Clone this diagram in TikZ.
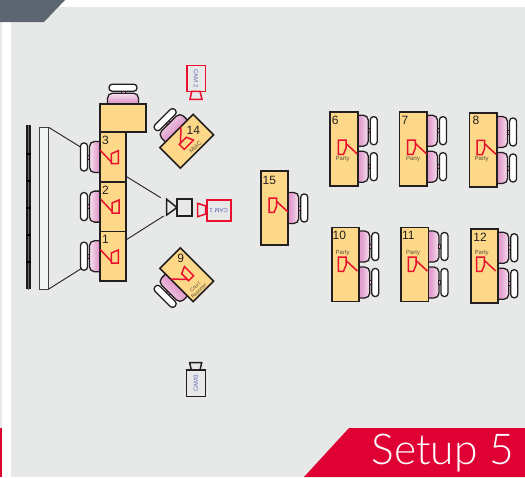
\documentclass[tikz,border=0pt]{standalone}
\usepackage{fontspec}
\setmainfont{Liberation Sans}
\newfontfamily\bannerfont{Lato Light}
\usetikzlibrary{positioning, backgrounds, calc}
\definecolor{panel}{HTML}{E7E9E8}
\definecolor{slate}{HTML}{5D6670}
\definecolor{banner}{HTML}{DF0034}
\definecolor{desk}{HTML}{FCD888}
\definecolor{ink}{HTML}{231F20}
\definecolor{micred}{HTML}{E8102E}
\definecolor{seatpink}{HTML}{E29FCE}
\definecolor{seatpale}{HTML}{F6E2EF}
\definecolor{camtext}{HTML}{5F69B8}
\definecolor{small}{HTML}{5E5138}

\tikzset{
  chair/.pic={
    \draw[ink, line width=1.3pt, rounded corners=5pt, left color=seatpale, right color=seatpink, middle color=seatpink, shading angle=90+#1]
      (6,-15.5) -- (-10.5,-15.5) -- (-10.5,15.5) -- (6,15.5) -- cycle;
    \draw[ink, line width=1pt, fill=seatpink] (-12.5,-2) rectangle (-10.5,2);
    \draw[ink, line width=1.3pt, fill=white, rounded corners=3.2pt] (-19.5,-14) rectangle (-12.5,14);
  },
  leftmic/.pic={
    \draw[micred, line width=1.5pt] (0,0) -- (11.3,12);
    \draw[micred, line width=1.5pt] (11.3,3.7) -- (18.3,.7) -- (18.3,13.7) -- (11.3,13.7) -- cycle;
  },
  rightmic/.pic={
    \draw[micred, line width=1.5pt] (0,0) -- (-11.3,-10.5);
    \draw[micred, line width=1.5pt] (-19,-14) -- (-11.3,-14) -- (-11.3,-6) -- (-13.8,.3) -- (-19,.3) -- cycle;
  }
}

\begin{document}
\begin{tikzpicture}[
  x=1pt, y=-1pt,
  tbox/.style={draw=ink, fill=desk, line width=1.6pt, outer sep=0pt, inner sep=0pt, minimum width=26pt, minimum height=49.6pt},
  longbox/.style={tbox, minimum width=27.5pt, minimum height=74pt},
  tiltbox/.style={tbox, minimum width=47pt, minimum height=29pt},
  num/.style={font=\fontsize{12}{12}\selectfont, text=ink, inner sep=0pt},
  tiny/.style={font=\fontsize{6}{6}\selectfont, text=small, inner sep=0pt, align=center},
  camred/.style={draw=micred, line width=1.6pt, fill=panel, inner sep=0pt, outer sep=0pt,
                 font=\fontsize{6}{6}\selectfont, text=camtext},
  camdark/.style={camred, draw=ink},
  lens/.style={draw=micred, line width=1.5pt},
  thin/.style={draw=ink, line width=.9pt}
]
\useasboundingbox (0,0) rectangle (525,477);

\node[tbox]                  (t3) at (113,157) {};
\node[tbox, below=0pt of t3] (t2) {};
\node[tbox, below=0pt of t2] (t1) {};
\node[tbox, minimum width=46pt, minimum height=28.5pt, anchor=south west] (ttop) at (t3.north west) {};

\foreach \n/\cx/\cy in {6/344/148.7, 7/413.2/148.7, 8/483.3/150, 10/345.5/264.5, 11/414.7/264.5, 12/484.5/265.8, 15/274.5/208}
  \node[longbox] (t\n) at (\cx,\cy) {};

\node[tiltbox, rotate=45]  (t14) at (186.7,141.2) {};
\node[tiltbox, rotate=-45] (t9)  at (186.7,274.8) {};

\begin{scope}[on background layer]
  \fill[white] (0,0) rectangle (525,477);
  \fill[panel] (11,7) rectangle (525,477);
  \fill[panel] (0,0) rectangle (2,428);
  \fill[banner] (0,428) rectangle (2,477);
  \fill[slate] (0,0) -- (65,0) -- (44,22) -- (0,22) -- cycle;
  \fill[banner] (349,428) -- (525,428) -- (525,477) -- (304,477) -- cycle;

  \foreach \n in {1,2,3}
    \pic at (t\n.west) {chair=0};
  \pic[rotate=-90] at (ttop.north) {chair=-90};
  \foreach \n in {6,7,8,10,11,12} {
    \pic[rotate=180] at ([yshift=-19pt]t\n.north east) {chair=180};
    \pic[rotate=180] at ([yshift=19pt]t\n.south east) {chair=180};
  }
  \pic[rotate=180] at (t15.east) {chair=180};
  \pic[rotate=-45] at (t14.north) {chair=-45};
  \pic[rotate=45]  at (t9.south) {chair=45};
\end{scope}

\foreach \n/\cx/\cy in {3/105.5/140, 2/105.5/190, 1/105.5/239, 6/335.3/120, 7/405/120, 8/476/120.7, 15/269.3/180,
                        10/339.3/235, 11/408.3/235.7, 12/480/237.3, 14/193.3/130, 9/180.7/258.3}
  \node[num] (lbl\n) at (\cx,\cy) {\n};

\foreach \cx/\cy in {100/249.3, 100.7/199.3, 100/150}
  \pic at (\cx,\cy) {leftmic};
\pic[rotate=-45] at (181,126.7) {leftmic};
\pic[rotate=45]  at (171,279)   {leftmic};
\foreach \cx/\cy in {357.3/154, 426.7/154, 496/154.3, 357.3/271, 427.3/271, 495.7/271, 288/212}
  \pic at (\cx,\cy) {rightmic};

\foreach \n/\cx/\cy in {a/342.7/159, b/413/159, c/481.7/159, d/342.7/253, e/413/253, f/481.7/253}
  \node[tiny] (party\n) at (\cx,\cy) {Party};
\node[tiny, rotate=45] (miac) at (195.5,147) {MIAC};
\node[tiny, rotate=45, font=\fontsize{5}{5.5}\selectfont] (reporter) at (197.3,289.3) {Court\\Reporter};

\node[fill=black!90, inner sep=0pt, minimum width=4.6pt, minimum height=164pt] (wall) at (28.7,207.3) {};
\draw[black!60, line width=.5pt] (wall.north) -- (wall.south);
\foreach \ty in {153.7,180.7,207.7,235,262.3}
  \draw[black, line width=1.8pt] (wall.west |- 0,\ty) -- (wall.east |- 0,\ty);
\node[draw=ink!85, fill=white!55!panel, line width=1pt, inner sep=0pt, outer sep=0pt, minimum width=9.4pt, minimum height=161.7pt] (screen) at (44,208.2) {};

\coordinate (seatA) at (80,146.7);
\coordinate (seatB) at (81.7,268.3);
\coordinate (tableA) at (126.7,176.7);
\coordinate (tableB) at (127,239.3);
\coordinate (projA) at (160.7,197.7);
\coordinate (projB) at (163.7,216);
\draw[thin] (screen.north east) -- (seatA);
\draw[thin] (screen.south east) -- (seatB);
\draw[thin] (tableA) -- (projA);
\draw[thin] (tableB) -- (projB);

\node[draw=ink, line width=1.6pt, minimum width=15pt, minimum height=17pt, inner sep=0pt, outer sep=0pt] (proj) at (184.5,207.5) {};
\draw[ink, line width=1.5pt] (166.7,199.3) -- (proj.west) -- (166.7,215) -- cycle;

\node[camred, minimum width=24pt, minimum height=21pt, rotate=180] (cam1) at (218.7,210.5) {CAM 1};
\draw[lens] (205.7,206) -- (197.7,203.3) -- (197.7,216.7) -- (205.7,214) -- cycle;

\node[camred, minimum width=26pt, minimum height=18.6pt, rotate=-90] (cam2) at (196,78.3) {CAM 2};
\draw[lens] (191.7,91.3) -- (190,99.3) -- (202,99.3) -- (200,91.3) -- cycle;

\node[camdark, minimum width=26.7pt, minimum height=19pt, rotate=90] (cam3) at (195.8,383.3) {CAM3};
\draw[ink, line width=1.5pt] (191.3,370) -- (189.7,362.7) -- (201.7,362.7) -- (200,370) -- cycle;

\node[anchor=base east, inner sep=0pt, text=white, font=\bannerfont\fontsize{42.5}{42.5}\selectfont] (setup) at (514,464.5) {Setup 5};
\end{tikzpicture}
\end{document}
